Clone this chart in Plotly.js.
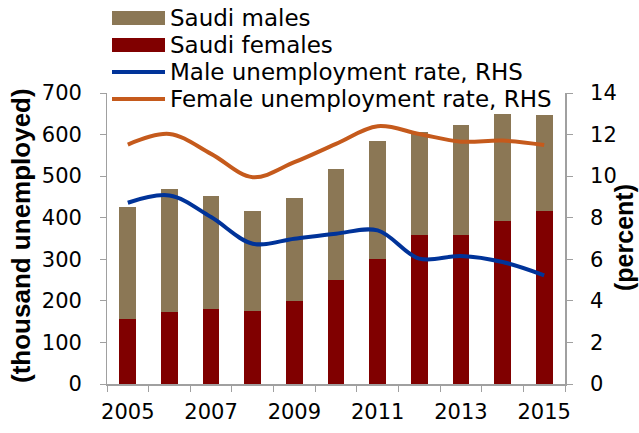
<!DOCTYPE html>
<html>
<head>
<meta charset="utf-8">
<script src="https://cdn.plot.ly/plotly-3.0.1.min.js"></script>
<style>html,body{margin:0;padding:0;background:#fff;}#chart{width:639px;height:433px;}</style>
</head>
<body>
<div id="chart"></div>
<script>
const years = ["2005","2006","2007","2008","2009","2010","2011","2012","2013","2014","2015"];
const yearLabels = ["2005","","2007","","2009","","2011","","2013","","2015"];
const saudiFemales = [157, 174, 181, 176, 200, 250, 301, 358, 359, 391, 415];
const saudiTotal = [426, 468, 453, 415, 448, 516, 585, 605, 622, 650, 646];
const saudiMales = saudiTotal.map((t, i) => t - saudiFemales[i]);
const maleRate = [8.72, 9.07, 8.03, 6.75, 6.99, 7.23, 7.39, 6.03, 6.16, 5.87, 5.23];
const femaleRate = [11.52, 12.03, 11.07, 9.95, 10.67, 11.55, 12.4, 12.03, 11.66, 11.71, 11.5];
const seriesNames = ["Saudi males", "Saudi females", "Male unemployment rate, RHS", "Female unemployment rate, RHS"];
const leftTitle = "(thousand unemployed)";
const rightTitle = "(percent)";

const fam = "DejaVu Sans, Liberation Sans, Arial, sans-serif";
const titleFam = "Liberation Sans, Arial, sans-serif";
const font = {family: fam, size: 21, color: "#000"};
const axisColor = "#a0a0a0";
const colors = ["#8b7755", "#800000", "#003399", "#c55a1c"];
const nb = "\u00a0";

const traces = [
  {type: "bar", name: seriesNames[1], x: years, y: saudiFemales, marker: {color: colors[1]}},
  {type: "bar", name: seriesNames[0], x: years, y: saudiMales, marker: {color: colors[0]}},
  {type: "scatter", mode: "lines", name: seriesNames[2], x: years, y: maleRate, yaxis: "y2",
   line: {color: colors[2], width: 4, shape: "spline", smoothing: 1}},
  {type: "scatter", mode: "lines", name: seriesNames[3], x: years, y: femaleRate, yaxis: "y2",
   line: {color: colors[3], width: 4, shape: "spline", smoothing: 1}}
];

// plot area in pixels: x 107..565, y 93..384
const L = 107, R = 565, T = 93, B = 384;
const px = v => (v - L) / (R - L);
const py = v => (B - v) / (B - T);

// manual legend (Excel style): rows centred at these pixel heights
const rowY = [18, 45, 72, 99];
const shapes = [];
const annotations = [];
seriesNames.forEach((nm, i) => {
  if (i < 2) {
    shapes.push({type: "rect", xref: "paper", yref: "paper", x0: px(112), x1: px(165), y0: py(rowY[i] + 7), y1: py(rowY[i] - 7),
                 fillcolor: colors[i], line: {width: 0}});
  } else {
    shapes.push({type: "line", xref: "paper", yref: "paper", x0: px(112), x1: px(165), y0: py(rowY[i]), y1: py(rowY[i]),
                 line: {color: colors[i], width: 4}});
  }
  annotations.push({xref: "paper", yref: "paper", x: px(168), y: py(rowY[i]), xanchor: "left", yanchor: "middle",
                    text: nm, showarrow: false, font: {family: fam, size: 23, color: "#000"}});
});
annotations.push({xref: "paper", yref: "paper", x: px(21), y: py(236), xanchor: "center", yanchor: "middle", textangle: -90,
                  text: "<b>" + leftTitle + "</b>", showarrow: false, font: {family: titleFam, size: 26, color: "#000"}});
annotations.push({xref: "paper", yref: "paper", x: px(624), y: py(238), xanchor: "center", yanchor: "middle", textangle: -90,
                  text: "<b>" + rightTitle + "</b>", showarrow: false, font: {family: titleFam, size: 25, color: "#000"}});

const layout = {
  width: 639, height: 433,
  margin: {l: L, r: 639 - R, t: T, b: 433 - B, pad: 0, autoexpand: false},
  paper_bgcolor: "#fff", plot_bgcolor: "#fff",
  font: font,
  barmode: "stack",
  bargap: 0.6,
  showlegend: false,
  shapes: shapes,
  annotations: annotations,
  xaxis: {
    type: "category", tickson: "boundaries", tickvals: years, ticktext: yearLabels, tickangle: 0,
    showline: true, linecolor: axisColor, linewidth: 1.5, ticks: "outside", ticklen: 6, tickcolor: axisColor,
    showgrid: false, zeroline: false, tickfont: font, ticklabelstandoff: 8
  },
  yaxis: {
    range: [0, 700], dtick: 100, showline: true, linecolor: axisColor, linewidth: 1.5,
    ticks: "outside", ticklen: 6, tickcolor: axisColor, showgrid: false, zeroline: false,
    tickfont: font, ticksuffix: nb + nb
  },
  yaxis2: {
    overlaying: "y", side: "right", range: [0, 14], dtick: 2, showline: true, linecolor: axisColor, linewidth: 1.5,
    ticks: "outside", ticklen: 6, tickcolor: axisColor, showgrid: false, zeroline: false,
    tickfont: font, tickprefix: nb + nb
  }
};

Plotly.newPlot("chart", traces, layout, {staticPlot: true, displayModeBar: false});
</script>
</body>
</html>
